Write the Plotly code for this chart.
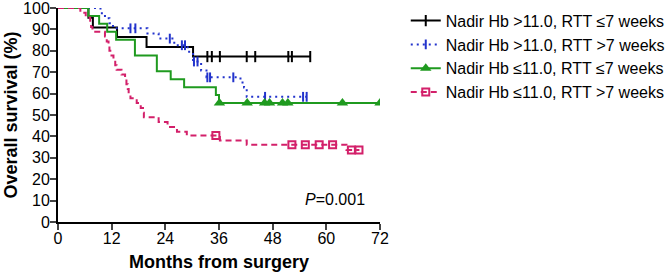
import plotly.graph_objects as go

# ---------------- data ----------------
names = ["Nadir Hb >11.0, RTT \u22647 weeks",
         "Nadir Hb >11.0, RTT >7 weeks",
         "Nadir Hb \u226411.0, RTT \u22647 weeks",
         "Nadir Hb \u226411.0, RTT >7 weeks"]

# event times (months) and survival (%) after each event
black_t = [0, 6.8, 7.8, 13.2, 19.8, 30.2]
black_s = [100, 95.5, 90.9, 86.4, 81.8, 77.3]
black_end = 56.4
black_cens = [33.4, 34.4, 36.2, 42.2, 44.1, 51.5, 52.3, 56.4]

blue_t = [0, 9.5, 10.5, 11.5, 12.3, 20.0, 22.5, 26.0, 29.0, 30.2, 32.0, 33.2, 40.8, 41.6, 42.2]
blue_s = [100, 97.6, 95.2, 92.9, 90.5, 88.1, 85.7, 82.6, 79.5, 75.0, 70.8, 67.6, 65.2, 62.8, 58.5]
blue_end = 55.6
blue_cens = [16.2, 17.3, 25.0, 27.7, 28.4, 30.4, 31.2, 33.4, 34.0, 39.2, 46.3, 54.8, 55.6]

green_t = [0, 6.8, 9.2, 11.0, 13.0, 17.2, 22.1, 25.2, 28.2, 35.3, 36.0]
green_s = [100, 96.3, 92.6, 88.9, 85.2, 77.8, 70.4, 66.7, 63.0, 59.3, 55.6]
green_end = 72
green_cens = [36.1, 42.3, 46.2, 47.3, 50.2, 51.4, 63.6, 72]

mag_t = [0, 5.0, 6.2, 7.2, 7.4, 7.7, 10.5, 10.9, 11.3, 11.5, 11.7, 12.4, 12.8, 13.1, 14.2,
         15.0, 15.3, 15.6, 15.8, 16.2, 17.6, 18.5, 19.0, 19.2, 22.5, 24.5, 26.6, 28.8,
         36.2, 42.2, 64.5]
mag_s = [100, 97.8, 95.6, 93.3, 91.1, 88.9, 86.7, 84.4, 82.2, 80.0, 77.8, 75.6, 73.3, 71.1, 68.9,
         66.7, 64.4, 62.2, 60.0, 57.8, 55.6, 53.3, 51.1, 48.9, 46.7, 44.4, 42.2, 40.4,
         38.1, 36.1, 33.7]
mag_end = 67.4
mag_cens = [35.3, 52.3, 55.3, 58.4, 61.4, 65.6, 67.3]

x_ticks = [0, 12, 24, 36, 48, 60, 72]
y_ticks = [0, 10, 20, 30, 40, 50, 60, 70, 80, 90, 100]
p_text = "<i>P</i>=0.001"

# ---------------- helpers ----------------
def surv_at(ts, ss, t):
    v = ss[0]
    for ti, si in zip(ts, ss):
        if ti <= t:
            v = si
    return v

FONT = "Arial, Liberation Sans, Helvetica, sans-serif"
BLACK = "#000000"
BLUE = "#2233cc"
GREEN = "#1f9a1f"
MAG = "#d3206a"

series = [
    (black_t, black_s, black_end, black_cens, BLACK, "solid",
     dict(symbol="line-ns", size=8, line=dict(width=2, color=BLACK), color=BLACK)),
    (blue_t, blue_s, blue_end, blue_cens, BLUE, "2px,4px",
     dict(symbol="line-ns", size=7, line=dict(width=2, color=BLUE), color=BLUE)),
    (green_t, green_s, green_end, green_cens, GREEN, "solid",
     dict(symbol="triangle-up", size=10, color=GREEN, line=dict(width=0))),
    (mag_t, mag_s, mag_end, mag_cens, MAG, "6px,4px",
     dict(symbol="square-open", size=7, color=MAG, line=dict(width=2, color=MAG))),
]

fig = go.Figure()
for name, (ts, ss, tend, cens, col, dash, mk) in zip(names, series):
    xs = list(ts) + [tend]
    ys = list(ss) + [ss[-1]]
    fig.add_trace(go.Scatter(x=xs, y=ys, mode="lines", line=dict(color=col, width=2, dash=dash, shape="hv"),
                             showlegend=False, hoverinfo="skip"))
    fig.add_trace(go.Scatter(x=cens, y=[surv_at(ts, ss, c) for c in cens], mode="markers",
                             marker=mk, showlegend=False, hoverinfo="skip"))
    fig.add_trace(go.Scatter(x=[None], y=[None], mode="lines+markers", name=name,
                             line=dict(color=col, width=2, dash=dash), marker=mk))

fig.add_annotation(x=69, y=10.6, xref="x", yref="y", text=p_text, showarrow=False,
                   xanchor="right", yanchor="middle", font=dict(size=16, color=BLACK, family=FONT))

fig.update_layout(
    width=670, height=275,
    margin=dict(l=58, r=290, t=8, b=53, autoexpand=False),
    paper_bgcolor="white", plot_bgcolor="white",
    font=dict(family=FONT, size=16, color=BLACK),
    legend=dict(x=1.08, y=1.02, xanchor="left", yanchor="top", font=dict(size=16, color=BLACK),
                bgcolor="rgba(0,0,0,0)", itemwidth=30, tracegroupgap=0),
)
fig.update_xaxes(range=[0, 72], tickvals=x_ticks, ticks="outside", ticklen=6, tickwidth=2,
                 showline=True, linewidth=2, linecolor=BLACK, showgrid=False, zeroline=False,
                 automargin=False, tickfont=dict(size=16), ticklabelstandoff=-5,
                 ticklabeloverflow="allow",
                 title=dict(text="<b>Months from surgery</b>", font=dict(size=18), standoff=9))
fig.update_yaxes(range=[0, 100], tickvals=y_ticks, ticks="outside", ticklen=6, tickwidth=2,
                 showline=True, linewidth=2, linecolor=BLACK, showgrid=False, zeroline=False,
                 automargin=False, tickfont=dict(size=16), ticklabelstandoff=-3,
                 ticklabeloverflow="allow",
                 title=dict(text="<b>Overall survival (%)</b>", font=dict(size=18), standoff=1))

fig.write_html("out.html", config={"displayModeBar": False},
               post_script="document.body.style.margin='0';")
